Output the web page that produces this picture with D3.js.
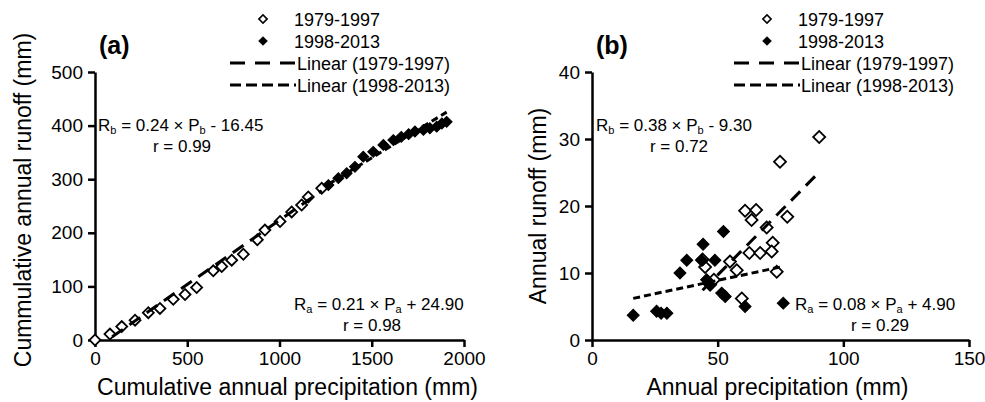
<!DOCTYPE html>
<html><head><meta charset="utf-8">
<script src="https://cdn.jsdelivr.net/npm/d3@7"></script>
<style>
body{margin:0;background:#fff}
svg{display:block;font-family:"Liberation Sans",Arial,sans-serif}
</style></head><body>
<svg id="c" width="985" height="402"></svg>
<script>
// ---------- Panel (a): cumulative values ----------
const cumP_1979 = [0, 81, 145, 217, 289, 352, 424, 488, 551, 641, 687, 741, 804, 880, 921, 1003, 1066, 1120, 1156, 1229];
const cumR_1979 = [0, 11, 25, 37, 51, 59, 76, 85, 98, 129, 137, 149, 160, 187, 205, 221, 239, 252, 267, 283];
const cumP_1998 = [1265, 1319, 1364, 1409, 1454, 1508, 1563, 1617, 1660, 1700, 1734, 1780, 1815, 1852, 1880, 1906];
const cumR_1998 = [289, 302, 311, 323, 342, 351, 364, 373, 379, 384, 389, 392, 395, 398, 404, 407];
// ---------- Panel (b): annual values ----------
const P_1979 = [90.4, 74.8, 60.9, 65.3, 63.5, 77.7, 69.5, 71.9, 62.6, 66.9, 71.5, 73.5, 54.9, 57.6, 59.6, 47.0, 45.0, 44.0, 48.5];
const R_1979 = [30.3, 26.6, 19.3, 19.4, 17.9, 18.4, 16.8, 14.5, 13.0, 13.0, 13.2, 10.2, 11.7, 10.4, 6.2, 8.3, 10.9, 12.0, 9.0];
const P_1998 = [16.4, 25.7, 27.5, 29.8, 35.0, 37.7, 43.6, 44.2, 52.3, 48.9, 45.6, 47.0, 51.6, 53.0, 60.9, 76.1];
const R_1998 = [3.7, 4.3, 4.0, 4.0, 10.0, 11.9, 11.9, 14.3, 16.2, 11.9, 9.0, 8.2, 7.0, 6.5, 5.0, 5.5];
// ---------- ticks, labels, fits ----------
const xTicksA = [0, 500, 1000, 1500, 2000];
const yTicksA = [0, 100, 200, 300, 400, 500];
const xTicksB = [0, 50, 100, 150];
const yTicksB = [0, 10, 20, 30, 40];
const seriesNames = ["1979-1997", "1998-2013", "Linear (1979-1997)", "Linear (1998-2013)"];
const fitA = {b: [0.24, -16.45, 0.99], a: [0.21, 24.90, 0.98]};
const fitB = {b: [0.38, -9.30, 0.72], a: [0.08, 4.90, 0.29]};

const svg = d3.select("#c");
const FONT = '"Liberation Sans",Arial,sans-serif';

function panel(opt) {
  const x = d3.scaleLinear().domain(opt.xDom).range(opt.xR);
  const y = d3.scaleLinear().domain(opt.yDom).range(opt.yR);
  const g = svg.append("g");
  const clipId = "clip" + opt.id;
  svg.append("clipPath").attr("id", clipId).append("rect")
    .attr("x", opt.xR[0]).attr("y", opt.yR[1]).attr("width", opt.xR[1]-opt.xR[0]).attr("height", opt.yR[0]-opt.yR[1]);

  // axes
  const ax = g.append("g").attr("transform", `translate(0,${opt.yR[0]})`)
    .call(d3.axisBottom(x).tickValues(opt.xTicks).tickSize(7).tickPadding(5).tickSizeOuter(0).tickFormat(d3.format("d")));
  const ay = g.append("g").attr("transform", `translate(${opt.xR[0]},0)`)
    .call(d3.axisLeft(y).tickValues(opt.yTicks).tickSize(7).tickPadding(5).tickSizeOuter(0).tickFormat(d3.format("d")));
  [ax, ay].forEach(a => {
    a.select(".domain").attr("stroke", "#000").attr("stroke-width", 2.5);
    a.selectAll(".tick line").attr("stroke", "#000").attr("stroke-width", 2.5);
    a.selectAll(".tick text").attr("fill", "#000").style("font-size", "19px").style("font-family", FONT);
  });

  // axis titles
  g.append("text").attr("x", (opt.xR[0]+opt.xR[1])/2 + opt.xtDx).attr("y", 395)
    .attr("text-anchor", "middle").style("font-size", "23px").text(opt.xTitle);
  g.append("text").attr("transform", `translate(${opt.ytX},${(opt.yR[0]+opt.yR[1])/2 + opt.ytDy}) rotate(-90)`)
    .attr("text-anchor", "middle").style("font-size", "23px").text(opt.yTitle);

  // panel letter
  g.append("text").attr("x", opt.xR[0] + 4).attr("y", 54).style("font-size", "25px").style("font-weight", "bold").text(opt.letter);

  const sq = d3.symbol().type(d3.symbolSquare).size(opt.msize);
  // markers
  g.append("g").selectAll("path").data(opt.open).join("path")
    .attr("d", sq).attr("transform", d => `translate(${x(d[0])},${y(d[1])}) rotate(45)`)
    .attr("fill", "#fff").attr("stroke", "#000").attr("stroke-width", 1.8);
  g.append("g").selectAll("path").data(opt.filled).join("path")
    .attr("d", sq).attr("transform", d => `translate(${x(d[0])},${y(d[1])}) rotate(45)`)
    .attr("fill", "#000").attr("stroke", "#000").attr("stroke-width", 1);

  // fitted lines
  const lg = g.append("g").attr("clip-path", `url(#${clipId})`);
  const line = d3.line().x(d => x(d[0])).y(d => y(d[1]));
  function fitLine(pts, f, dash) {
    const ext = d3.extent(pts, d => d[0]);
    lg.append("path").datum(ext.map(p => [p, f[0]*p + f[1]]))
      .attr("d", line).attr("fill", "none").attr("stroke", "#000").attr("stroke-width", 3)
      .attr("stroke-dasharray", dash);
  }
  fitLine(opt.open, opt.fit.b, "13,8");
  fitLine(opt.filled, opt.fit.a, "7,4");

  // legend
  const L = g.append("g").attr("transform", `translate(${opt.legX},0)`);
  const rows = [26, 48, 70, 92];
  const lsq = d3.symbol().type(d3.symbolSquare).size(34);
  L.append("path").attr("d", lsq).attr("transform", `translate(33,${rows[0]-7}) rotate(45)`)
    .attr("fill", "#fff").attr("stroke", "#000").attr("stroke-width", 1.6);
  L.append("path").attr("d", lsq).attr("transform", `translate(33,${rows[1]-7}) rotate(45)`)
    .attr("fill", "#000").attr("stroke", "#000").attr("stroke-width", 1);
  L.append("line").attr("x1", 0).attr("x2", 66).attr("y1", rows[2]-7).attr("y2", rows[2]-7)
    .attr("stroke", "#000").attr("stroke-width", 3).attr("stroke-dasharray", "15,10");
  L.append("line").attr("x1", 0).attr("x2", 66).attr("y1", rows[3]-7).attr("y2", rows[3]-7)
    .attr("stroke", "#000").attr("stroke-width", 3).attr("stroke-dasharray", "11,5");
  seriesNames.forEach((s, i) => {
    L.append("text").attr("x", i < 2 ? 64 : 67).attr("y", rows[i]).style("font-size", "18px").text(s);
  });

  // equations
  function eq(xp, yp, rCx, sym, f) {
    const t = g.append("text").attr("x", xp).attr("y", yp).style("font-size", "17px");
    t.append("tspan").text("R");
    t.append("tspan").attr("dy", 3).style("font-size", "11px").text(sym);
    const sign = f[1] < 0 ? " - " : " + ";
    t.append("tspan").attr("dy", -3).text(` = ${f[0].toFixed(2)} × P`);
    t.append("tspan").attr("dy", 3).style("font-size", "11px").text(sym);
    t.append("tspan").attr("dy", -3).text(`${sign}${Math.abs(f[1]).toFixed(2)}`);
    g.append("text").attr("x", rCx).attr("y", yp + 21).attr("text-anchor", "middle")
      .style("font-size", "17px").text(`r = ${f[2].toFixed(2)}`);
  }
  eq(opt.eqB[0], opt.eqB[1], opt.eqB[2], "b", opt.fit.b);
  eq(opt.eqA[0], opt.eqA[1], opt.eqA[2], "a", opt.fit.a);
}

panel({
  id: "A", xDom: [0, 2000], yDom: [0, 500], xR: [95, 464], yR: [340, 72],
  xTicks: xTicksA, yTicks: yTicksA, letter: "(a)",
  xTitle: "Cumulative annual precipitation (mm)", yTitle: "Cummulative annual runoff (mm)",
  xtDx: 8, ytX: 31, ytDy: -6, msize: 60,
  open: cumP_1979.map((p, i) => [p, cumR_1979[i]]),
  filled: cumP_1998.map((p, i) => [p, cumR_1998[i]]),
  fit: fitA, legX: 230, eqB: [98, 131, 182], eqA: [294, 310, 372]
});
panel({
  id: "B", xDom: [0, 150], yDom: [0, 40], xR: [592, 969], yR: [340, 72],
  xTicks: xTicksB, yTicks: yTicksB, letter: "(b)",
  xTitle: "Annual precipitation (mm)", yTitle: "Annual runoff (mm)",
  xtDx: -3, ytX: 546, ytDy: 0, msize: 72,
  open: P_1979.map((p, i) => [p, R_1979[i]]),
  filled: P_1998.map((p, i) => [p, R_1998[i]]),
  fit: fitB, legX: 734, eqB: [596, 131, 679], eqA: [795, 310, 880]
});
</script>
</body></html>
